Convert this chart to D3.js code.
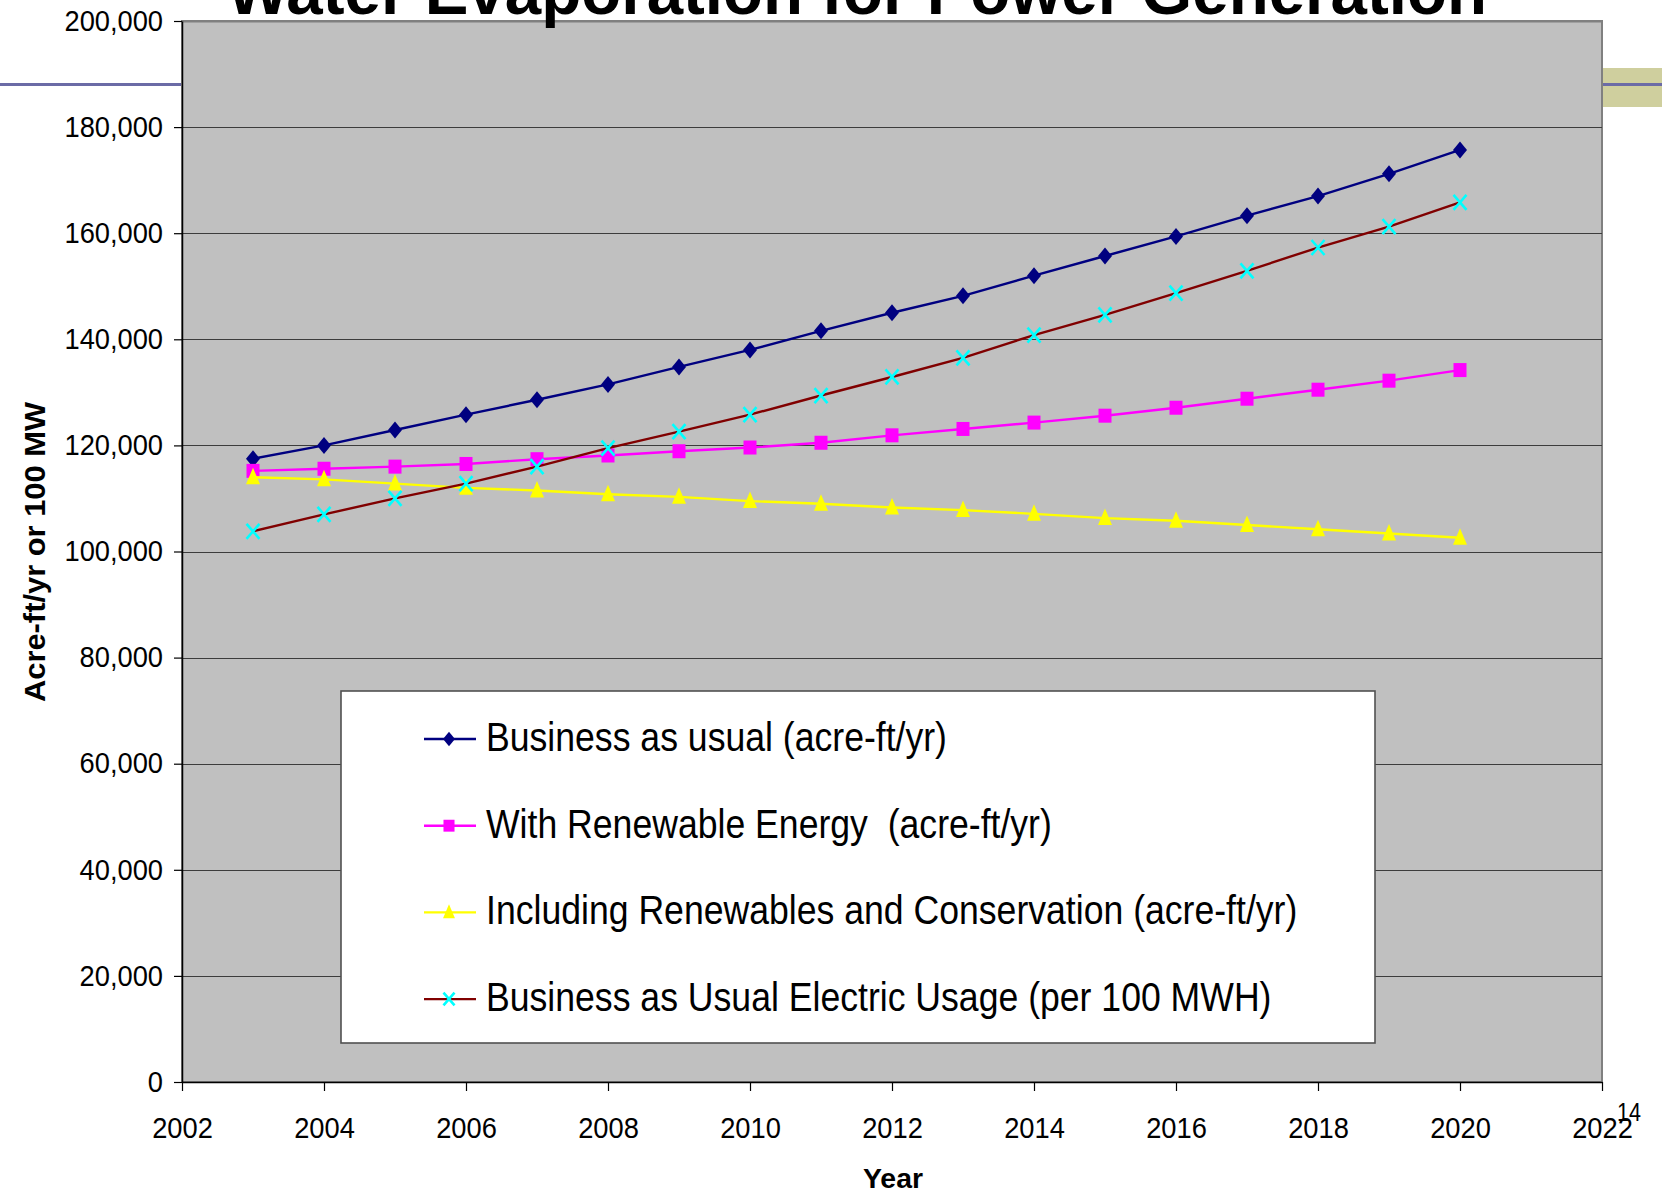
<!DOCTYPE html>
<html>
<head>
<meta charset="utf-8">
<script src="https://cdn.jsdelivr.net/npm/d3@7"></script>
<style>
  html, body { margin: 0; padding: 0; background: #fff; overflow: hidden; }
  svg { display: block; font-family: "Liberation Sans", Arial, sans-serif; }
</style>
</head>
<body>
<svg id="chart" width="1662" height="1196"></svg>
<script>
// ---- data ----
const years = [2003, 2004, 2005, 2006, 2007, 2008, 2009, 2010, 2011,
               2012, 2013, 2014, 2015, 2016, 2017, 2018, 2019, 2020];

const businessAsUsual = [117500, 120000, 122900, 125800, 128600, 131500, 134800, 138000, 141600,
                         145000, 148200, 152000, 155700, 159400, 163300, 167000, 171200, 175700];

const withRenewables = [115200, 115600, 116000, 116500, 117400, 118100, 118900, 119600, 120500,
                        121900, 123100, 124300, 125600, 127100, 128800, 130500, 132200, 134200];

const renewablesAndConservation = [114000, 113600, 112800, 112000, 111500, 110800, 110300, 109500, 109000,
                                   108300, 107800, 107100, 106300, 105800, 105000, 104200, 103400, 102600];

const electricUsage = [103800, 107000, 110000, 112800, 116000, 119500, 122600, 125800, 129400,
                       132900, 136500, 140800, 144600, 148700, 152900, 157300, 161250, 165800];

const seriesNames = [
  "Business as usual (acre-ft/yr)",
  "With Renewable Energy  (acre-ft/yr)",
  "Including Renewables and Conservation (acre-ft/yr)",
  "Business as Usual Electric Usage (per 100 MWH)"
];

const xTickValues = [2002, 2004, 2006, 2008, 2010, 2012, 2014, 2016, 2018, 2020, 2022];
const yTickValues = [0, 20000, 40000, 60000, 80000, 100000, 120000, 140000, 160000, 180000, 200000];

const chartTitle = "Water Evaporation for Power Generation";
const xTitle = "Year";
const yTitle = "Acre-ft/yr or 100 MW";
const pageNumber = "14";

// ---- styles per series ----
const seriesStyle = [
  { line: "#000080", marker: "diamond",  fill: "#000080" },
  { line: "#ff00ff", marker: "square",   fill: "#ff00ff" },
  { line: "#ffff00", marker: "triangle", fill: "#ffff00" },
  { line: "#800000", marker: "cross",    fill: "#00ffff" }
];

const seriesValues = [businessAsUsual, withRenewables, renewablesAndConservation, electricUsage];
const series = seriesNames.map((name, i) => ({
  name,
  style: seriesStyle[i],
  points: years.map((yr, j) => ({ year: yr, value: seriesValues[i][j] }))
}));

// ---- layout ----
const plot = { left: 182, right: 1602, top: 21, bottom: 1082 };

const svg = d3.select("#chart");

const x = d3.scaleLinear().domain([2002, 2022]).range([plot.left, plot.right]);
const y = d3.scaleLinear().domain([0, 200000]).range([plot.bottom, plot.top]);

// condense text horizontally to a fraction of its natural width
function squeeze(sel, f) {
  sel.each(function () {
    const w = this.getComputedTextLength();
    d3.select(this).attr("textLength", w * f).attr("lengthAdjust", "spacingAndGlyphs");
  });
}

// marker shapes
function drawMarker(g, kind, fill, s) {
  s = s || 1;
  if (kind === "diamond") {
    g.append("path").attr("d", `M0,${-8.5*s}L${7*s},0L0,${8.5*s}L${-7*s},0Z`).attr("fill", fill);
  } else if (kind === "square") {
    g.append("rect").attr("x", -6.5*s).attr("y", -7*s).attr("width", 13*s).attr("height", 14*s).attr("fill", fill);
  } else if (kind === "triangle") {
    g.append("path").attr("d", `M0,${-9.5*s}L${7*s},${7*s}L${-7*s},${7*s}Z`).attr("fill", fill);
  } else if (kind === "cross") {
    g.append("path").attr("d", `M${-6.5*s},${-7.5*s}L${6.5*s},${7.5*s}M${6.5*s},${-7.5*s}L${-6.5*s},${7.5*s}`)
      .attr("stroke", fill).attr("stroke-width", 2.6).attr("fill", "none");
  }
}

// ---- slide decoration ----
svg.append("rect").attr("x", plot.right).attr("y", 68).attr("width", 1662 - plot.right).attr("height", 39)
  .attr("fill", "#cfcf9e");
svg.append("line").attr("x1", 0).attr("x2", 1662).attr("y1", 84.5).attr("y2", 84.5)
  .attr("stroke", "#6b6ba6").attr("stroke-width", 3);

// ---- plot area ----
svg.append("rect")
  .attr("x", plot.left).attr("y", plot.top)
  .attr("width", plot.right - plot.left).attr("height", plot.bottom - plot.top)
  .attr("fill", "#c0c0c0").attr("stroke", "#808080").attr("stroke-width", 2);

// horizontal gridlines
svg.append("g").selectAll("line")
  .data(yTickValues.filter(v => v > 0))
  .join("line")
  .attr("x1", plot.left).attr("x2", plot.right)
  .attr("y1", d => Math.round(y(d)) + 0.5).attr("y2", d => Math.round(y(d)) + 0.5)
  .attr("stroke", d => d === 200000 ? "#808080" : "#3c3c3c")
  .attr("stroke-width", d => d === 200000 ? 2 : 1.2);

// ---- series ----
const lineGen = d3.line().x(d => x(d.year)).y(d => y(d.value));
series.forEach(s => {
  const g = svg.append("g");
  g.append("path").datum(s.points)
    .attr("d", lineGen).attr("fill", "none")
    .attr("stroke", s.style.line).attr("stroke-width", 2.4);
  g.selectAll("g.mk").data(s.points).join("g")
    .attr("class", "mk")
    .attr("transform", d => `translate(${x(d.year)},${y(d.value)})`)
    .each(function () { drawMarker(d3.select(this), s.style.marker, s.style.fill); });
});

// ---- legend ----
const legend = svg.append("g");
legend.append("rect")
  .attr("x", 341).attr("y", 691).attr("width", 1034).attr("height", 352)
  .attr("fill", "#fff").attr("stroke", "#505050").attr("stroke-width", 1.6);
const legendRows = legend.selectAll("g.row").data(series).join("g")
  .attr("class", "row")
  .attr("transform", (d, i) => `translate(0,${751 + i * 86.7})`);
legendRows.append("line")
  .attr("x1", 424).attr("x2", 476).attr("y1", -12).attr("y2", -12)
  .attr("stroke", d => d.style.line).attr("stroke-width", 2.4);
legendRows.append("g")
  .attr("transform", "translate(449,-12)")
  .each(function (d) { drawMarker(d3.select(this), d.style.marker, d.style.fill, 0.85); });
const legendText = legendRows.append("text")
  .attr("x", 486).attr("y", 0)
  .style("white-space", "pre")
  .attr("font-size", 40).attr("fill", "#000")
  .text(d => d.name);
squeeze(legendText, 0.89);

// ---- axes ----
const yAxis = svg.append("g")
  .attr("transform", `translate(${plot.left},0)`)
  .call(d3.axisLeft(y).tickValues(yTickValues).tickSize(8).tickSizeOuter(0).tickPadding(11)
        .tickFormat(d3.format(",")));
const xAxis = svg.append("g")
  .attr("transform", `translate(0,${plot.bottom})`)
  .call(d3.axisBottom(x).tickValues(xTickValues).tickSize(9).tickSizeOuter(0).tickPadding(26)
        .tickFormat(d3.format("d")));

[yAxis, xAxis].forEach(a => {
  a.select(".domain").attr("stroke", "#000").attr("stroke-width", 1.5);
  a.selectAll(".tick line").attr("stroke", "#000").attr("stroke-width", 1.2);
  a.selectAll(".tick text")
    .attr("font-size", 29).attr("fill", "#000")
    .attr("font-family", "'Liberation Sans', Arial, sans-serif");
  squeeze(a.selectAll(".tick text"), 0.94);
});

// axis titles
svg.append("text")
  .attr("transform", "translate(45,552) rotate(-90)")
  .attr("text-anchor", "middle")
  .attr("font-size", 29).attr("font-weight", "bold").attr("fill", "#000")
  .attr("textLength", 300).attr("lengthAdjust", "spacingAndGlyphs")
  .text(yTitle);

svg.append("text")
  .attr("x", 893).attr("y", 1188)
  .attr("text-anchor", "middle")
  .attr("font-size", 27).attr("font-weight", "bold").attr("fill", "#000")
  .attr("textLength", 60).attr("lengthAdjust", "spacingAndGlyphs")
  .text(xTitle);

// page number
svg.append("text")
  .attr("x", 1617).attr("y", 1121)
  .attr("font-size", 26).attr("fill", "#000")
  .attr("textLength", 24).attr("lengthAdjust", "spacingAndGlyphs")
  .text(pageNumber);

// slide title (runs off the top edge)
svg.append("text")
  .attr("x", 857).attr("y", 14)
  .attr("text-anchor", "middle")
  .attr("font-size", 66).attr("font-weight", "bold").attr("fill", "#000")
  .attr("textLength", 1260).attr("lengthAdjust", "spacingAndGlyphs")
  .text(chartTitle);
</script>
</body>
</html>
